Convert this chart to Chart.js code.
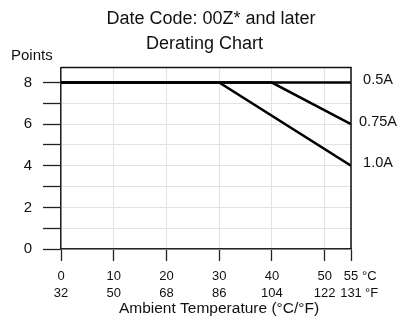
<!DOCTYPE html>
<html>
<head>
<meta charset="utf-8">
<script src="https://cdn.jsdelivr.net/npm/chart.js@4/dist/chart.umd.min.js"></script>
<style>
  html, body { margin: 0; padding: 0; background: #fff; }
  #wrap { width: 402px; height: 320px; position: relative; }
</style>
</head>
<body>
<div id="wrap"><canvas id="chart" width="402" height="320"></canvas></div>
<script>
// Derating curves: allowed points vs ambient temperature (°C)
const seriesNames = ['0.5A', '0.75A', '1.0A'];
const temp05 = [0, 55];
const points05 = [8, 8];
const temp075 = [0, 40, 55];
const points075 = [8, 8, 6];
const temp10 = [0, 30, 55];
const points10 = [8, 8, 4];

// Axis ticks
const celsiusTicks = [0, 10, 20, 30, 40, 50, 55];
const fahrenheitTicks = [32, 50, 68, 86, 104, 122, 131];
const pointTicks = [0, 1, 2, 3, 4, 5, 6, 7, 8];
const pointLabels = ['0', '', '2', '', '4', '', '6', '', '8'];

const titleLines = ['Date Code: 00Z* and later', 'Derating Chart'];
const yTitle = 'Points';
const xTitle = 'Ambient Temperature (°C/°F)';

const FONT = '"Liberation Sans", Arial, Helvetica, sans-serif';

function toXY(xs, ys) { return xs.map((x, i) => ({ x: x, y: ys[i] })); }

const lineStyle = { borderColor: '#000', borderWidth: 2.6, pointRadius: 0, fill: false, tension: 0 };

const textPlugin = {
  id: 'chartText',
  afterDraw(chart) {
    const ctx = chart.ctx;
    const a = chart.chartArea;
    const xs = chart.scales.x, ys = chart.scales.y;
    ctx.save();
    // frame top and right
    ctx.strokeStyle = '#111';
    ctx.lineWidth = 1.5;
    ctx.beginPath();
    ctx.moveTo(a.left, a.top);
    ctx.lineTo(a.right, a.top);
    ctx.lineTo(a.right, a.bottom);
    ctx.stroke();

    ctx.fillStyle = '#111';
    ctx.textBaseline = 'middle';
    // titles
    ctx.textAlign = 'center';
    ctx.font = '18px ' + FONT;
    ctx.fillText(titleLines[0], 211, 19);
    ctx.fillText(titleLines[1], 204.5, 44);
    // y title
    ctx.textAlign = 'left';
    ctx.font = '15px ' + FONT;
    ctx.fillText(yTitle, 11, 56);
    // x title
    ctx.textAlign = 'center';
    ctx.font = '15.5px ' + FONT;
    ctx.fillText(xTitle, 219, 309);
    // series labels at curve ends
    ctx.font = '14.5px ' + FONT;
    const ends = [points05, points075, points10];
    seriesNames.forEach((name, i) => {
      const v = ends[i][ends[i].length - 1];
      ctx.fillText(name, a.right + 27, ys.getPixelForValue(v) - 2.5);
    });
    // unit suffixes after the last temperature tick
    ctx.textAlign = 'left';
    ctx.font = '13px ' + FONT;
    const lastX = xs.getPixelForValue(celsiusTicks[celsiusTicks.length - 1]);
    ctx.fillText('°C', lastX + 11, 276);
    ctx.fillText('°F', lastX + 14, 293);
    ctx.restore();
  }
};

new Chart(document.getElementById('chart'), {
  type: 'line',
  data: {
    datasets: [
      Object.assign({ label: seriesNames[0], data: toXY(temp05, points05) }, lineStyle),
      Object.assign({ label: seriesNames[1], data: toXY(temp075, points075) }, lineStyle),
      Object.assign({ label: seriesNames[2], data: toXY(temp10, points10) }, lineStyle)
    ]
  },
  options: {
    responsive: false,
    animation: false,
    devicePixelRatio: 1,
    layout: { padding: { top: 67.5, right: 51, bottom: 0, left: 0 } },
    plugins: { legend: { display: false }, title: { display: false }, tooltip: { enabled: false } },
    scales: {
      x: {
        type: 'linear',
        min: 0, max: 55,
        afterBuildTicks: (s) => { s.ticks = celsiusTicks.map(v => ({ value: v })); },
        afterFit: (s) => { s.height = 71; },
        grid: { color: '#e2e2e2', lineWidth: 1, tickColor: '#222', tickLength: 12, tickWidth: 1.3 },
        border: { color: '#222', width: 1.5 },
        ticks: {
          padding: 7,
          color: '#111',
          font: { family: FONT, size: 13, lineHeight: 1.3 },
          maxRotation: 0,
          autoSkip: false,
          callback: (v) => {
            const i = celsiusTicks.indexOf(v);
            return [String(celsiusTicks[i]), String(fahrenheitTicks[i])];
          }
        }
      },
      y: {
        type: 'linear',
        min: 0, max: 8.72,
        afterBuildTicks: (s) => { s.ticks = pointTicks.map(v => ({ value: v })); },
        afterFit: (s) => { s.width = 61; },
        grid: { color: '#e2e2e2', lineWidth: 1, tickColor: '#222', tickLength: 18, tickWidth: 1.3 },
        border: { color: '#222', width: 1.5 },
        ticks: {
          padding: 11,
          color: '#111',
          font: { family: FONT, size: 15 },
          callback: (v) => pointLabels[pointTicks.indexOf(v)]
        }
      }
    }
  },
  plugins: [textPlugin]
});
</script>
</body>
</html>
